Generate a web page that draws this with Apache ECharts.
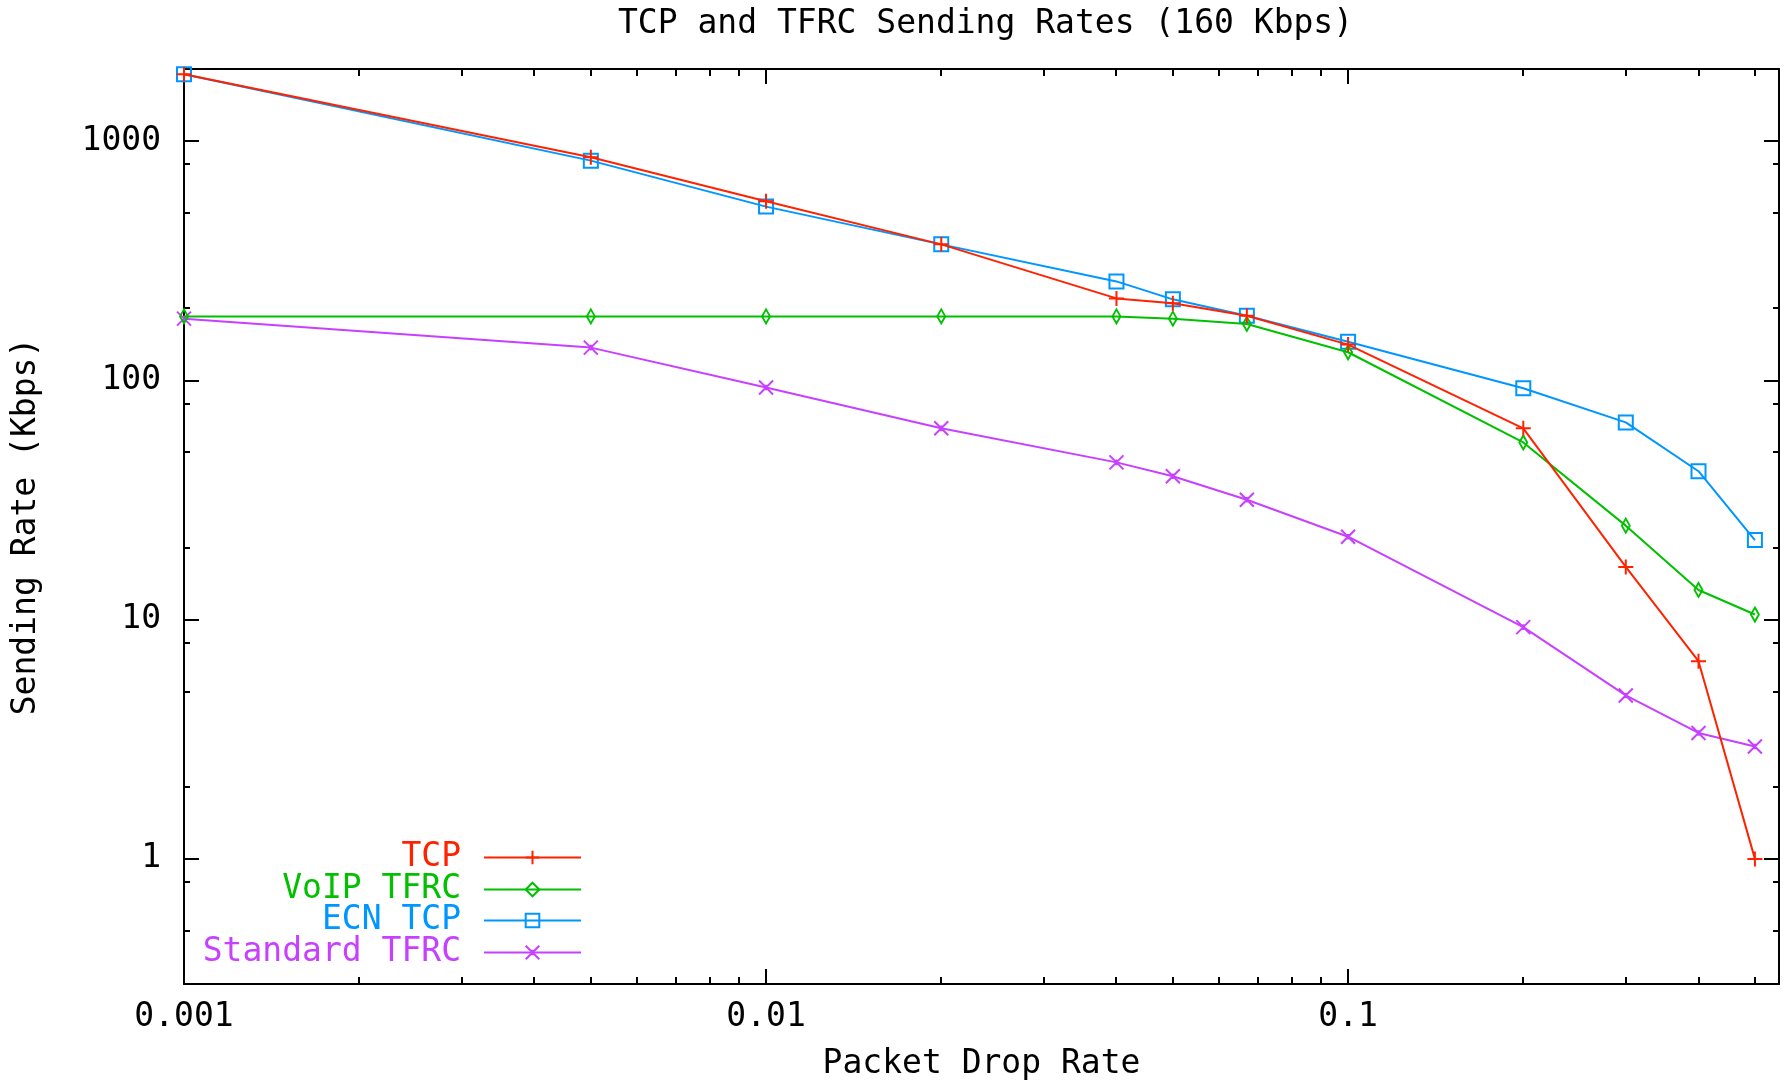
<!DOCTYPE html>
<html>
<head>
<meta charset="utf-8">
<script src="https://cdn.jsdelivr.net/npm/echarts@6/dist/echarts.min.js"></script>
<style>
html,body{margin:0;padding:0;background:#fff;}
#chart{width:1784px;height:1080px;}
</style>
</head>
<body>
<div id="chart"></div>
<script>
// ---- data ----
const dropRate = [0.001, 0.005, 0.01, 0.02, 0.04, 0.05, 0.067, 0.1, 0.2, 0.3, 0.4, 0.5];
const tcp      = [1900, 855, 560, 370, 220, 210, 186, 141, 63, 16.6, 6.7, 1.0];
const voipTfrc = [185, 185, 185, 185, 185, 181, 172, 131, 55, 24.7, 13.3, 10.5];
const ecnTcp   = [1900, 828, 532, 370, 259, 218, 186, 145, 92.7, 66.7, 41.7, 21.5];
const stdTfrc  = [181, 137, 93.3, 63, 45.4, 39.7, 31.7, 22.2, 9.3, 4.82, 3.36, 2.95];
const seriesNames = ['TCP', 'VoIP TFRC', 'ECN TCP', 'Standard TFRC'];
const seriesColors = ['#ff2200', '#00c000', '#0096ff', '#c840ff'];
const xMinorTicks = [0.002,0.003,0.004,0.005,0.006,0.007,0.008,0.009,
                     0.02,0.03,0.04,0.05,0.06,0.07,0.08,0.09,
                     0.2,0.3,0.4,0.5];
const yMinorTicks = [0.5,0.8,2,5,8,20,50,80,200,500,800];
const titleText = 'TCP and TFRC Sending Rates (160 Kbps)';
const xName = 'Packet Drop Rate';
const yName = 'Sending Rate (Kbps)';

const FONT = 'DejaVu Sans Mono';
const FS = 33;
const symbols = [
  'path://M5,0L5,10M0,5L10,5',
  'path://M5,0L10,10L5,20L0,10Z',
  'path://M0,0L10,0L10,10L0,10Z',
  'path://M0,0L10,10M10,0L0,10M5,3L5,7'
];
const symbolSizes = [15, [8, 14], 14, 14];
const allData = [tcp, voipTfrc, ecnTcp, stdTfrc];

function fmt(v){ return String(+Number(v).toPrecision(6)); }

const chart = echarts.init(document.getElementById('chart'), null, {renderer:'canvas'});

const lineSeries = allData.map((vals, i) => ({
  name: seriesNames[i],
  type: 'line',
  xAxisIndex: 0, yAxisIndex: 0,
  data: dropRate.map((x, k) => [x, vals[k]]),
  symbol: symbols[i],
  symbolSize: symbolSizes[i],
  symbolKeepAspect: false,
  showAllSymbol: true,
  clip: false,
  animation: false,
  lineStyle: { color: seriesColors[i], width: 2 },
  itemStyle: { color: 'rgba(0,0,0,0)', borderColor: seriesColors[i], borderWidth: 2 },
  emphasis: { disabled: true },
  z: 3 + (3 - i)
}));

const tickStyle = { stroke: '#000', lineWidth: 2 };

const xMinorSeries = {
  type: 'custom', xAxisIndex: 0, yAxisIndex: 0, silent: true, clip: false, animation: false,
  data: xMinorTicks.map(v => [v, 1]),
  renderItem: function(params, api){
    const cs = params.coordSys;
    const x = Math.round(api.coord([api.value(0), 1])[0]);
    const yb = cs.y + cs.height, yt = cs.y;
    return { type: 'group', children: [
      { type: 'line', shape: {x1:x, y1:yb, x2:x, y2:yb-7}, style: tickStyle },
      { type: 'line', shape: {x1:x, y1:yt, x2:x, y2:yt+7}, style: tickStyle }
    ]};
  }
};
const yMinorSeries = {
  type: 'custom', xAxisIndex: 0, yAxisIndex: 0, silent: true, clip: false, animation: false,
  data: yMinorTicks.map(v => [0.01, v]),
  renderItem: function(params, api){
    const cs = params.coordSys;
    const y = Math.round(api.coord([0.01, api.value(1)])[1]);
    const xl = cs.x, xr = cs.x + cs.width;
    return { type: 'group', children: [
      { type: 'line', shape: {x1:xl, y1:y, x2:xl+6, y2:y}, style: tickStyle },
      { type: 'line', shape: {x1:xr, y1:y, x2:xr-6, y2:y}, style: tickStyle }
    ]};
  }
};

const legendRows = [841, 873, 904, 936];
const legends = seriesNames.map((n, i) => ({
  data: [n],
  orient: 'vertical',
  align: 'right',
  right: 1784 - 582,
  top: legendRows[i],
  padding: 0,
  itemGap: 0,
  itemWidth: 97,
  itemHeight: 17,
  selectedMode: false,
  formatter: '{t|{name}}',
  textStyle: {
    color: seriesColors[i], fontFamily: FONT, fontSize: FS,
    rich: { t: { color: seriesColors[i], fontFamily: FONT, fontSize: FS, padding: [0, 18, 0, 0] } }
  }
}));

const axisCommonX = {
  type: 'log', logBase: 10, min: 0.001, max: 0.55,
  axisLine: { show: true, onZero: false, lineStyle: { color: '#000', width: 2 } },
  axisTick: { show: true, inside: true, length: 15, lineStyle: { color: '#000', width: 2 } },
  splitLine: { show: false },
  minorTick: { show: false }
};
const axisCommonY = {
  type: 'log', logBase: 10, min: 0.3, max: 2000,
  axisLine: { show: true, onZero: false, lineStyle: { color: '#000', width: 2 } },
  axisTick: { show: true, inside: true, length: 15, lineStyle: { color: '#000', width: 2 } },
  splitLine: { show: false },
  minorTick: { show: false }
};

chart.setOption({
  animation: false,
  backgroundColor: '#fff',
  title: {
    text: titleText,
    left: 613, top: 3,
    textStyle: { fontFamily: FONT, fontSize: FS, fontWeight: 'normal', color: '#000' }
  },
  legend: legends,
  grid: { left: 184, top: 69, width: 1595, height: 915, containLabel: false, outerBoundsMode: 'none' },
  xAxis: [
    Object.assign({}, axisCommonX, {
      position: 'bottom',
      name: xName, nameLocation: 'middle', nameGap: 64,
      nameTextStyle: { fontFamily: FONT, fontSize: FS, color: '#000' },
      axisLabel: { show: true, margin: 17, formatter: fmt, showMinLabel: true, showMaxLabel: false,
                   fontFamily: FONT, fontSize: FS, color: '#000' }
    }),
    Object.assign({}, axisCommonX, {
      position: 'top',
      axisLabel: { show: false }
    })
  ],
  yAxis: [
    Object.assign({}, axisCommonY, {
      position: 'left',
      name: yName, nameLocation: 'middle', nameGap: 141,
      nameTextStyle: { fontFamily: FONT, fontSize: FS, color: '#000' },
      axisLabel: { show: true, margin: 23, formatter: fmt, showMinLabel: false, showMaxLabel: false,
                   fontFamily: FONT, fontSize: FS, color: '#000' }
    }),
    Object.assign({}, axisCommonY, {
      position: 'right',
      axisLabel: { show: false }
    })
  ],
  series: lineSeries.concat([xMinorSeries, yMinorSeries])
});
</script>
</body>
</html>
